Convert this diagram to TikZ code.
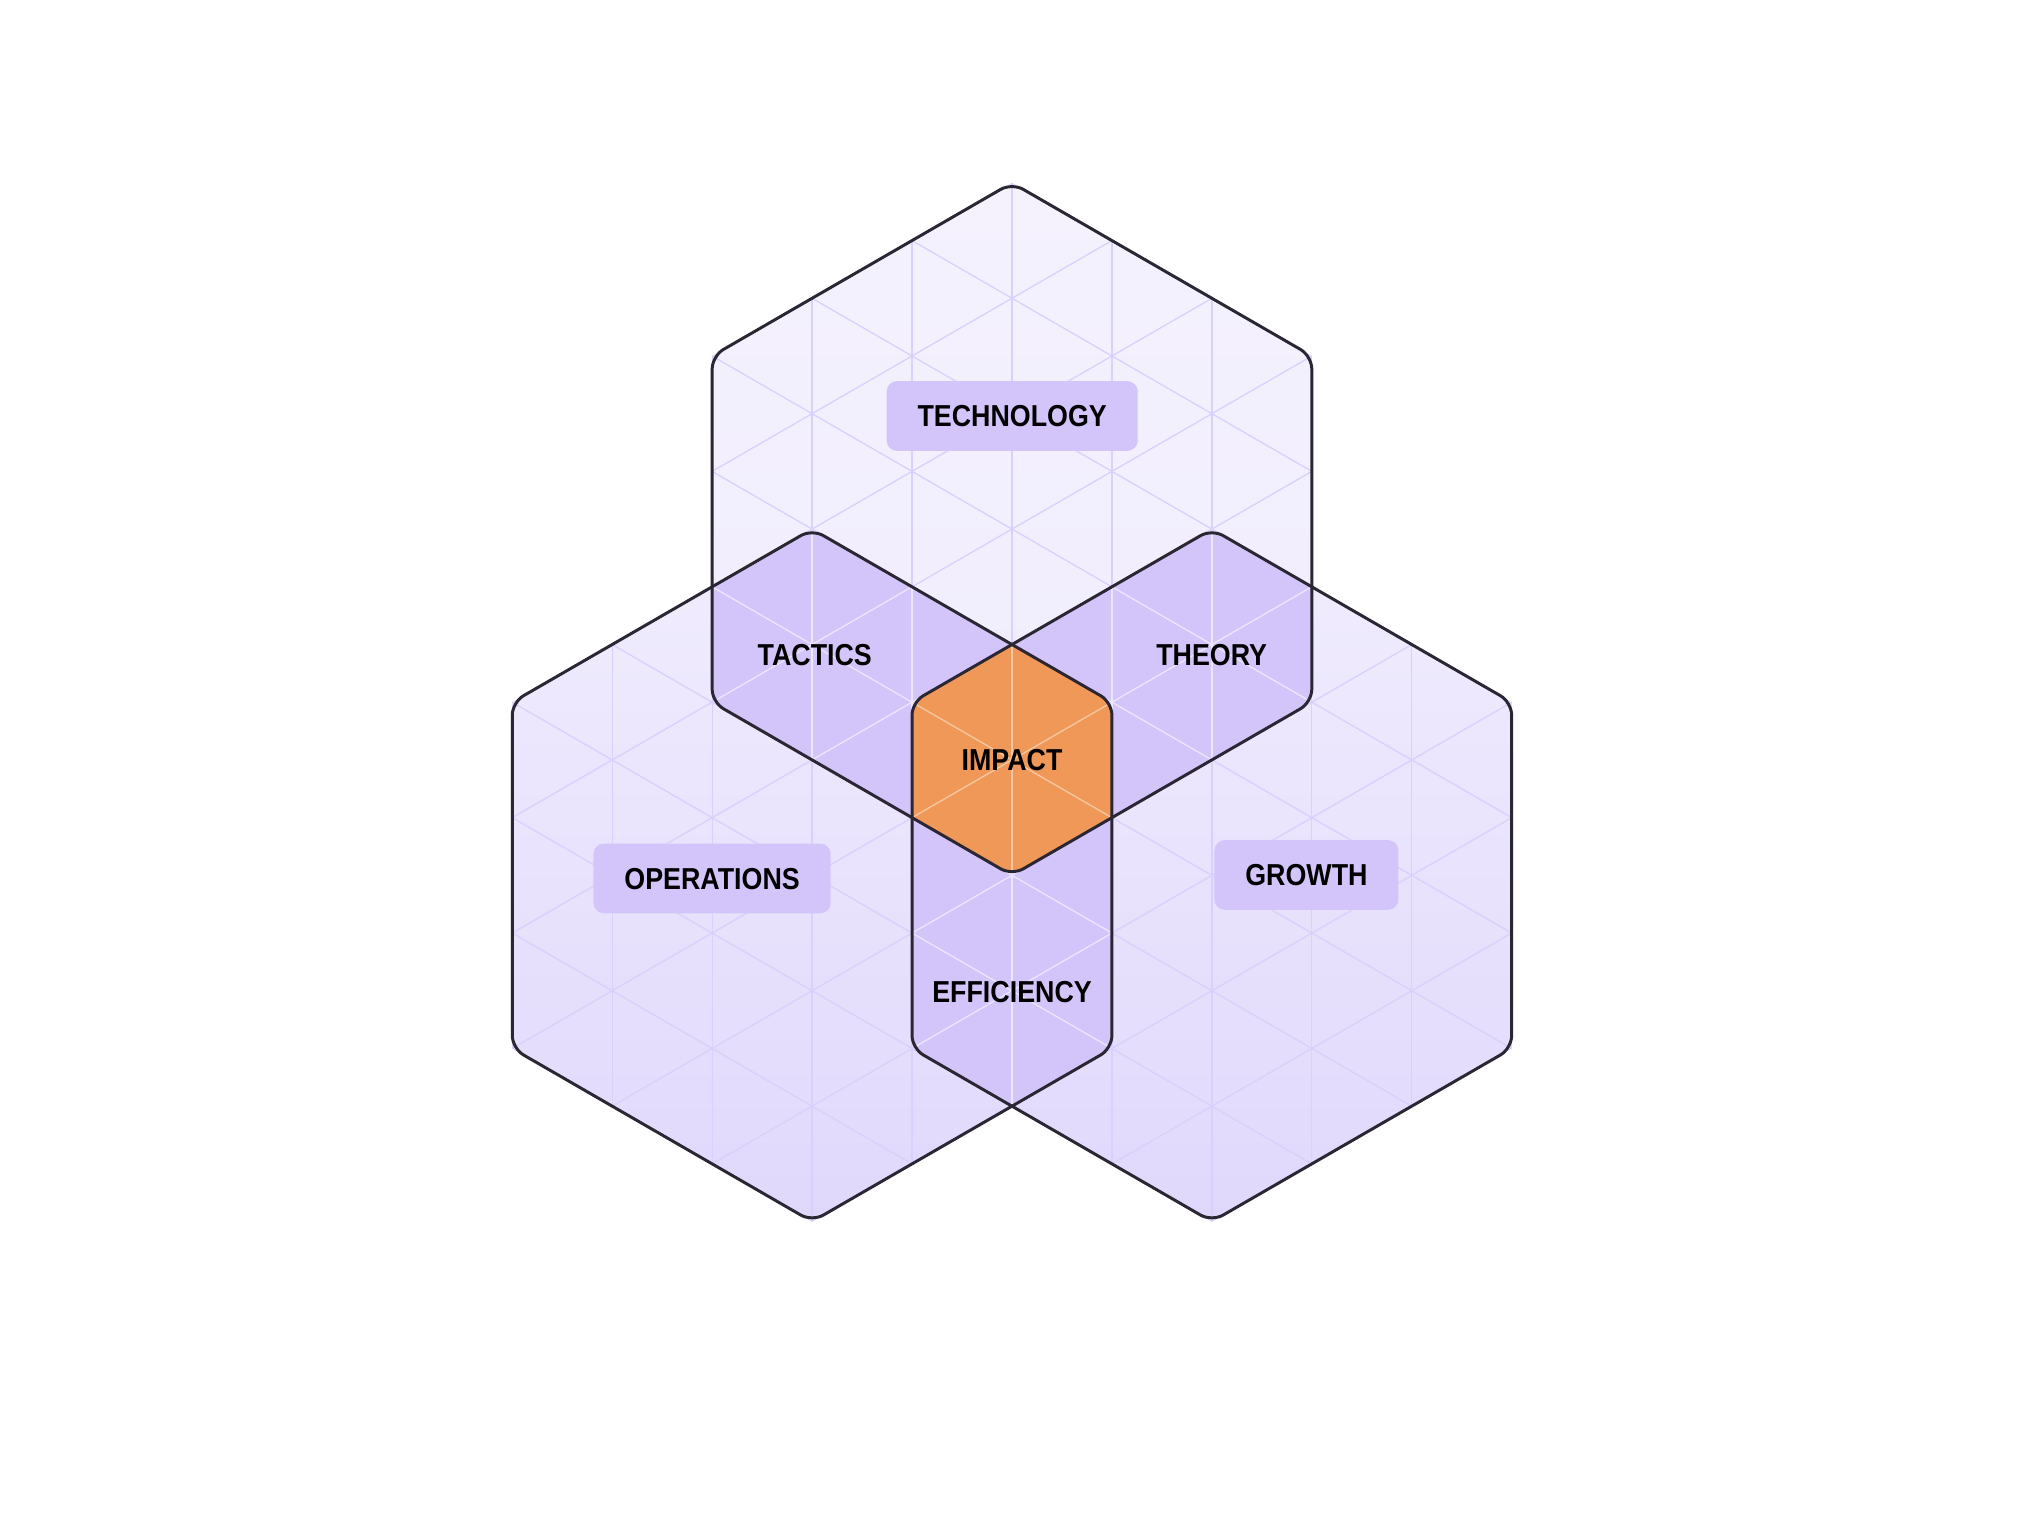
\documentclass[tikz,border=0pt]{standalone}
\usepackage{fontspec}
\setmainfont{Liberation Sans}[FakeStretch=0.885]
\definecolor{basetop}{HTML}{F5F2FE}
\definecolor{basemid}{HTML}{EFEBFD}
\definecolor{lowtop}{HTML}{F1EDFD}
\definecolor{basebot}{HTML}{E0D8FC}
\definecolor{gridbase}{HTML}{D9D0FB}
\definecolor{ovl}{HTML}{D3C5F9}
\definecolor{gridovl}{HTML}{ECE6FE}
\definecolor{impact}{HTML}{EF9858}
\definecolor{gridimp}{HTML}{F6C9A5}
\definecolor{outline}{HTML}{2B2633}
\newcommand\hexp[2]{(#1,#2-268.5) -- (#1+232.5,#2-134.25) -- (#1+232.5,#2+134.25) -- (#1,#2+268.5) -- (#1-232.5,#2+134.25) -- (#1-232.5,#2-134.25) -- cycle}
\newcommand\hexT{\hexp{784.75}{410.3}}
\newcommand\hexL{\hexp{629.75}{678.8}}
\newcommand\hexR{\hexp{939.75}{678.8}}
\newcommand\gridlines{%
  \foreach \k in {-6,...,6} {\draw (784.75+\k*77.5,100) -- (784.75+\k*77.5,1000);}
  \foreach \j in {-9,...,10} {
    \draw (384.75,410.3+\j*89.5-230.94) -- (1184.75,410.3+\j*89.5+230.94);
    \draw (384.75,410.3+\j*89.5+230.94) -- (1184.75,410.3+\j*89.5-230.94);
  }}
\tikzset{
  gridline/.style={line width=1pt},
  hexline/.style={draw=outline,line width=2.3pt,rounded corners=10pt,line join=round},
  labtext/.style={anchor=base,font=\fontsize{23.5pt}{28pt}\selectfont\bfseries,text=black,inner sep=0pt},
  labbox/.style={fill=ovl,rounded corners=8pt,inner xsep=24pt,inner ysep=0pt,minimum height=54pt,
    text height=16.8pt,text depth=0pt,font=\fontsize{23.5pt}{28pt}\selectfont\bfseries,text=black},
}
\begin{document}
\begin{tikzpicture}[x=1pt,y=-1pt]
\useasboundingbox (0,0) rectangle (1568,1182);
% base fills
\begin{scope}
  \clip \hexL \hexR;
  \shade[top color=lowtop,bottom color=basebot] (350,410) rectangle (1220,949);
\end{scope}
\begin{scope}
  \clip \hexT;
  \shade[top color=basetop,bottom color=basemid] (350,141) rectangle (1220,680);
\end{scope}
% base grid
\begin{scope}
  \clip \hexT \hexL \hexR;
  \begin{scope}[gridline,draw=gridbase] \gridlines \end{scope}
\end{scope}
% pairwise overlaps
\begin{scope}
  \clip[rounded corners=10pt] \hexT; \clip[rounded corners=10pt] \hexL;
  \fill[ovl] (300,100) rectangle (1300,1000);
  \begin{scope}[gridline,draw=gridovl] \gridlines \end{scope}
\end{scope}
\begin{scope}
  \clip[rounded corners=10pt] \hexT; \clip[rounded corners=10pt] \hexR;
  \fill[ovl] (300,100) rectangle (1300,1000);
  \begin{scope}[gridline,draw=gridovl] \gridlines \end{scope}
\end{scope}
\begin{scope}
  \clip[rounded corners=10pt] \hexL; \clip[rounded corners=10pt] \hexR;
  \fill[ovl] (300,100) rectangle (1300,1000);
  \begin{scope}[gridline,draw=gridovl] \gridlines \end{scope}
\end{scope}
% triple overlap
\begin{scope}
  \clip[rounded corners=10pt] \hexT; \clip[rounded corners=10pt] \hexL; \clip[rounded corners=10pt] \hexR;
  \fill[impact] (300,100) rectangle (1300,1000);
  \begin{scope}[gridline,draw=gridimp] \gridlines \end{scope}
\end{scope}
% outlines
\draw[hexline] \hexT;
\draw[hexline] \hexL;
\draw[hexline] \hexR;
% labels
\node[labbox] (tech) at (784.9,322.6) {TECHNOLOGY};
\node[labbox] (ops) at (552.2,681.2) {OPERATIONS};
\node[labbox] (growth) at (1013.1,678.5) {GROWTH};
\node[labtext] (tactics) at (631.8,516.0) {TACTICS};
\node[labtext] (theory) at (939.6,516.2) {THEORY};
\node[labtext] (impact) at (784.8,597.8) {IMPACT};
\node[labtext] (eff) at (784.8,777.6) {EFFICIENCY};
\end{tikzpicture}
\end{document}
